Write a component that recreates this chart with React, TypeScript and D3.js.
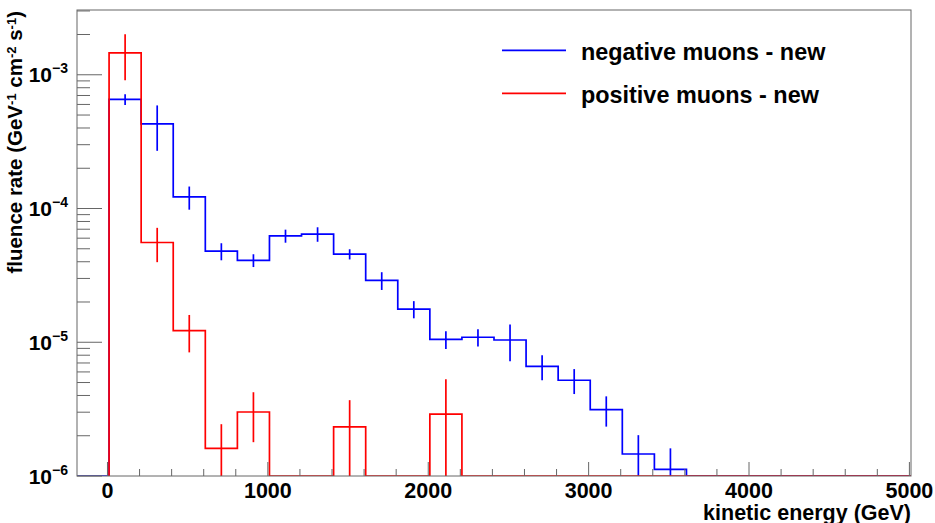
import * as d3 from 'd3';
import React, { useEffect, useRef } from 'react';

// bin edges in GeV (first bin is the empty one left of 0)
const binEdges = [
   -190, 10, 210, 410, 610, 810, 1010, 1210, 1410, 1610, 1810, 2010, 2210, 2410,
   2610, 2810, 3010, 3210, 3410, 3610, 3810, 4010, 4210, 4410, 4610, 4810, 5010,
];

const negativeValues = [
   0, 6.55e-4, 4.3e-4, 1.22e-4, 4.8e-5, 4.1e-5, 6.25e-5, 6.44e-5, 4.56e-5, 2.9e-5,
   1.77e-5, 1.05e-5, 1.09e-5, 1.04e-5, 6.6e-6, 5.2e-6, 3.14e-6, 1.46e-6, 1.12e-6,
   0, 0, 0, 0, 0, 0, 0,
];
const negativeErrors = [
   0, 6e-5, 1.6e-4, 2.4e-5, 7e-6, 4.5e-6, 7e-6, 8e-6, 4e-6, 4.4e-6, 2.6e-6, 1.6e-6,
   1.6e-6, 3.2e-6, 1.4e-6, 1.1e-6, 8e-7, 5.6e-7, 4.9e-7, 0, 0, 0, 0, 0, 0, 0,
];

const positiveValues = [
   0, 1.46e-3, 5.57e-5, 1.22e-5, 1.61e-6, 3.01e-6, 0, 0, 2.33e-6, 0, 0, 2.9e-6,
   0, 0, 0, 0, 0, 0, 0, 0, 0, 0, 0, 0, 0, 0,
];
const positiveErrors = [
   0, 5.5e-4, 1.6e-5, 3.8e-6, 8.3e-7, 1.22e-6, 0, 0, 1.36e-6, 0, 0, 2.4e-6,
   0, 0, 0, 0, 0, 0, 0, 0, 0, 0, 0, 0, 0, 0,
];

const xTickValues = [0, 1000, 2000, 3000, 4000, 5000];
const yDecades = [-6, -5, -4, -3];

const legendLabels = ['negative muons - new', 'positive muons - new'];
const seriesColors = ['#0000ff', '#ff0000'];

const FONT = "'Liberation Sans', Arial, Helvetica, sans-serif";

type G = d3.Selection<SVGGElement, unknown, null, undefined>;

const App = () => {
   const svgRef = useRef<SVGSVGElement | null>(null);

   useEffect(() => {
      const svgEl = svgRef.current;
      if (!svgEl) {
         return;
      }
      const svg = d3.select(svgEl);
      svg.selectAll('*').remove();

      const frame = { left: 77, right: 911, top: 10, bottom: 476 };

      const xScale = d3
         .scaleLinear()
         .domain([-190, 5010])
         .range([frame.left, frame.right]);
      const yMin = 1e-6;
      const yScale = d3
         .scaleLog()
         .domain([yMin, 3.05e-3])
         .range([frame.bottom, frame.top])
         .clamp(true);

      const yOf = (v: number) => (v > 0 ? yScale(v) : frame.bottom);

      svg.append('rect')
         .attr('width', 935)
         .attr('height', 523)
         .attr('fill', '#fff');

      svg.append('defs')
         .append('clipPath')
         .attr('id', 'frameClip')
         .append('rect')
         .attr('x', frame.left)
         .attr('y', frame.top - 1)
         .attr('width', frame.right - frame.left)
         .attr('height', frame.bottom - frame.top + 1);

      /**
       * Step outline of one histogram plus its vertical error bars.
       */
      const drawHist = (
         g: G,
         values: number[],
         errors: number[],
         color: string,
         firstBin: number,
      ) => {
         const pts: [number, number][] = [[binEdges[firstBin], frame.bottom]];
         for (let i = firstBin; i < values.length; i++) {
            pts.push([binEdges[i], yOf(values[i])]);
         }
         pts.push([binEdges[values.length], yOf(values[values.length - 1])]);

         const line = d3
            .line<[number, number]>()
            .x((d) => xScale(d[0]))
            .y((d) => d[1])
            .curve(d3.curveStepAfter);

         g.append('path')
            .datum(pts)
            .attr('fill', 'none')
            .attr('stroke', color)
            .attr('stroke-width', 1.7)
            .attr('d', line);

         values.forEach((v, i) => {
            if (i < firstBin || v <= 0) return;
            const xc = xScale((binEdges[i] + binEdges[i + 1]) / 2);
            g.append('line')
               .attr('x1', xc)
               .attr('x2', xc)
               .attr('y1', yOf(v - errors[i]))
               .attr('y2', yOf(v + errors[i]))
               .attr('stroke', color)
               .attr('stroke-width', 1.7);
         });
      };

      const plot = svg.append('g').attr('clip-path', 'url(#frameClip)');
      drawHist(plot, negativeValues, negativeErrors, seriesColors[0], 0);
      drawHist(plot, positiveValues, positiveErrors, seriesColors[1], 1);

      // frame
      svg.append('rect')
         .attr('x', frame.left)
         .attr('y', frame.top)
         .attr('width', frame.right - frame.left)
         .attr('height', frame.bottom - frame.top)
         .attr('fill', 'none')
         .attr('stroke', '#666')
         .attr('stroke-width', 1);

      // x ticks: major every 1000, minor every 200
      const axisColor = '#666';
      for (let v = 0; v <= 5000; v += 200) {
         const isMajor = v % 1000 === 0;
         svg.append('line')
            .attr('x1', xScale(v))
            .attr('x2', xScale(v))
            .attr('y1', frame.bottom)
            .attr('y2', frame.bottom - (isMajor ? 14 : 7))
            .attr('stroke', axisColor)
            .attr('stroke-width', 1);
      }
      svg.append('g')
         .selectAll('text')
         .data(xTickValues)
         .join('text')
         .attr('x', (d) => xScale(d))
         .attr('y', 498)
         .attr('text-anchor', 'middle')
         .attr('font-family', FONT)
         .attr('font-weight', 'bold')
         .attr('font-size', 21.5)
         .text((d) => String(d));

      // y ticks: decades + 2..9 minor
      yDecades.forEach((p) => {
         for (let k = 1; k <= 9; k++) {
            const v = k * Math.pow(10, p);
            if (v < yMin || v > yScale.domain()[1]) continue;
            const y = yScale(v);
            svg.append('line')
               .attr('x1', frame.left)
               .attr('x2', frame.left + (k === 1 ? 25 : 13))
               .attr('y1', y)
               .attr('y2', y)
               .attr('stroke', axisColor)
               .attr('stroke-width', 1);
         }
         const label = svg
            .append('text')
            .attr('x', 68)
            .attr('y', yScale(Math.pow(10, p)) + 7.5)
            .attr('text-anchor', 'end')
            .attr('font-family', FONT)
            .attr('font-weight', 'bold')
            .attr('font-size', 21)
            .text('10');
         label.append('tspan')
            .attr('dy', -9)
            .attr('font-size', 14)
            .text(`\u2212${-p}`);
      });

      // axis titles
      svg.append('text')
         .attr('x', frame.right)
         .attr('y', 519.5)
         .attr('text-anchor', 'end')
         .attr('font-family', FONT)
         .attr('font-weight', 'bold')
         .attr('font-size', 21.5)
         .text('kinetic energy (GeV)');

      const yTitle = svg
         .append('text')
         .attr('transform', `translate(22,${frame.top + 1}) rotate(-90)`)
         .attr('text-anchor', 'end')
         .attr('font-family', FONT)
         .attr('font-weight', 'bold')
         .attr('font-size', 20.5);
      const parts: [string, string][] = [
         ['fluence rate (GeV', '-1'],
         [' cm', '-2'],
         [' s', '-1'],
      ];
      parts.forEach(([base, sup], i) => {
         yTitle.append('tspan').attr('dy', i === 0 ? 0 : 6).text(base);
         yTitle.append('tspan').attr('dy', -6).attr('font-size', 13).text(sup);
      });
      yTitle.append('tspan').attr('dy', 6).text(')');

      // legend
      legendLabels.forEach((label, i) => {
         const y = 50.3 + i * 43;
         svg.append('line')
            .attr('x1', 502)
            .attr('x2', 566)
            .attr('y1', y)
            .attr('y2', y)
            .attr('stroke', seriesColors[i])
            .attr('stroke-width', 1.7);
         svg.append('text')
            .attr('x', 581)
            .attr('y', y + 9.5)
            .attr('font-family', FONT)
            .attr('font-weight', 'bold')
            .attr('font-size', 23.4)
            .text(label);
      });
   }, []);

   return (
      <svg
         ref={svgRef}
         width={935}
         height={523}
         style={{ position: 'fixed', left: 0, top: 0 }}
      />
   );
};

export default App;
